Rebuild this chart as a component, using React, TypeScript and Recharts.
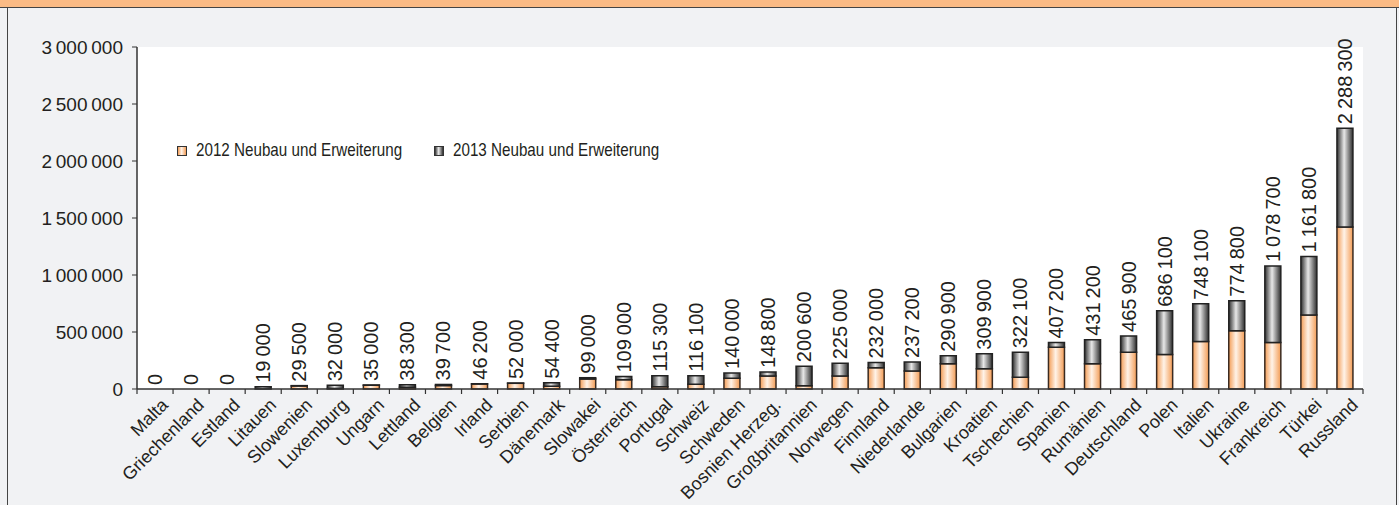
import React from 'react';
import {
  ComposedChart,
  Bar,
  Line,
  XAxis,
  YAxis,
  CartesianGrid,
  LabelList,
} from 'recharts';

const countries = [
  'Malta', 'Griechenland', 'Estland', 'Litauen', 'Slowenien', 'Luxemburg',
  'Ungarn', 'Lettland', 'Belgien', 'Irland', 'Serbien', 'Dänemark',
  'Slowakei', 'Österreich', 'Portugal', 'Schweiz', 'Schweden',
  'Bosnien Herzeg.', 'Großbritannien', 'Norwegen', 'Finnland', 'Niederlande',
  'Bulgarien', 'Kroatien', 'Tschechien', 'Spanien', 'Rumänien',
  'Deutschland', 'Polen', 'Italien', 'Ukraine', 'Frankreich', 'Türkei',
  'Russland',
];

// 2012 Neubau und Erweiterung
const values2012 = [
  0, 0, 0, 0, 27000, 4000,
  33000, 16000, 30000, 44000, 50000, 25000,
  88000, 82000, 20000, 41000, 94000,
  114000, 29000, 114000, 187000, 158000,
  222000, 178000, 102000, 367000, 221000,
  322000, 302000, 416000, 512000, 408000, 650000,
  1420000,
];

// 2013 Neubau und Erweiterung
const values2013 = [
  0, 0, 0, 19000, 2500, 28000,
  2000, 22300, 9700, 2200, 2000, 29400,
  11000, 27000, 95300, 75100, 46000,
  34800, 171600, 111000, 45000, 79200,
  68900, 131900, 220100, 40200, 210200,
  143900, 384100, 332100, 262800, 670700, 511800,
  868300,
];

const yTicks = [0, 500000, 1000000, 1500000, 2000000, 2500000, 3000000];

const data = countries.map((name, i) => ({
  name,
  a: values2012[i],
  b: values2013[i],
  total: values2012[i] + values2013[i],
}));

const W = 1399;
const H = 505;
const M = { top: 47, right: 36, left: 37, bottom: 6 };
const Y_AXIS_W = 100;
const X_AXIS_H = 110;
const plotW = W - M.left - M.right - Y_AXIS_W;
const half = plotW / countries.length / 2;

const FONT = "'Liberation Sans', Arial, sans-serif";
const TXT = '#231f20';

const fmt = (v: number) =>
  Math.round(v).toString().replace(/\B(?=(\d{3})+(?!\d))/g, '\u2009');

const CategoryTick = (props: any) => {
  const { x, y, payload, index } = props;
  const ax = x + 5;
  const ay = y;
  return (
    <g>
      <line x1={x - half} x2={x - half} y1={y - 8} y2={y - 3} stroke="#333" strokeWidth={1.2} />
      {index === countries.length - 1 && (
        <line x1={x + half} x2={x + half} y1={y - 8} y2={y - 3} stroke="#333" strokeWidth={1.2} />
      )}
      <text
        x={ax}
        y={ay}
        textAnchor="end"
        dominantBaseline="hanging"
        transform={`rotate(-45, ${ax}, ${ay})`}
        fontFamily={FONT}
        fontSize={18}
        fill={TXT}
      >
        {payload.value}
      </text>
    </g>
  );
};

const ValueLabel = (props: any) => {
  const { x, y, value } = props;
  const ty = y - 4;
  return (
    <text
      x={x}
      y={ty}
      transform={`rotate(-90, ${x}, ${ty})`}
      textAnchor="start"
      dominantBaseline="central"
      fontFamily={FONT}
      fontSize={20}
      fill={TXT}
    >
      {fmt(value)}
    </text>
  );
};

const LegendItem = ({ left, bg, label }: { left: number; bg: string; label: string }) => (
  <div style={{ position: 'absolute', left, top: 0, height: 24, whiteSpace: 'nowrap' }}>
    <span
      style={{
        position: 'absolute',
        left: 0,
        top: 7,
        width: 8,
        height: 8,
        border: '1px solid #333',
        background: bg,
      }}
    />
    <span
      style={{
        position: 'absolute',
        left: 19,
        top: 0,
        fontFamily: FONT,
        fontSize: 19,
        lineHeight: '22px',
        color: TXT,
        transform: 'scaleX(0.8)',
        transformOrigin: 'left center',
      }}
    >
      {label}
    </span>
  </div>
);

export default function App() {
  return (
    <div
      style={{
        position: 'absolute',
        left: 0,
        top: 0,
        width: W,
        height: H,
        background: '#f1f2f4',
        overflow: 'hidden',
      }}
    >
      <div
        style={{
          position: 'absolute',
          left: 0,
          top: 0,
          width: W,
          height: 7,
          background: '#fbbb85',
          borderBottom: '1.5px solid #444',
        }}
      />
      <div
        style={{
          position: 'absolute',
          left: 7,
          top: 8,
          width: 1388,
          height: 520,
          borderLeft: '1.5px solid #444',
          borderRight: '1.5px solid #444',
        }}
      />
      <div style={{ position: 'absolute', left: 0, top: 0 }}>
        <ComposedChart width={W} height={H} data={data} margin={M}>
          <defs>
            <linearGradient id="gOrange" x1="0" y1="0" x2="1" y2="0">
              <stop offset="0%" stopColor="#f39c55" />
              <stop offset="45%" stopColor="#fff3e8" />
              <stop offset="100%" stopColor="#f39c55" />
            </linearGradient>
            <linearGradient id="gGray" x1="0" y1="0" x2="1" y2="0">
              <stop offset="0%" stopColor="#2e2e2e" />
              <stop offset="45%" stopColor="#e8e8e8" />
              <stop offset="100%" stopColor="#2e2e2e" />
            </linearGradient>
          </defs>
          <CartesianGrid horizontal={false} vertical={false} fill="#ffffff" />
          <XAxis
            dataKey="name"
            interval={0}
            height={X_AXIS_H}
            tickLine={false}
            axisLine={{ stroke: '#333', strokeWidth: 1.5 }}
            tick={<CategoryTick />}
          />
          <XAxis
            xAxisId="top"
            orientation="top"
            dataKey="name"
            height={0}
            tick={false}
            tickLine={false}
            axisLine={{ stroke: '#555', strokeWidth: 1.2 }}
          />
          <YAxis
            width={Y_AXIS_W}
            domain={[0, 3000000]}
            ticks={yTicks}
            interval={0}
            tickFormatter={fmt}
            tick={{ fontFamily: FONT, fontSize: 19, fill: TXT }}
            tickSize={5}
            tickMargin={9}
            tickLine={{ stroke: '#333' }}
            axisLine={{ stroke: '#333', strokeWidth: 1.5 }}
          />
          <YAxis
            yAxisId="right"
            orientation="right"
            width={0}
            domain={[0, 3000000]}
            tick={false}
            tickLine={false}
            axisLine={{ stroke: '#666', strokeWidth: 1.2 }}
          />
          <Bar
            dataKey="a"
            stackId="s"
            barSize={16}
            fill="url(#gOrange)"
            stroke="#3a2a20"
            strokeWidth={1.5}
            isAnimationActive={false}
          />
          <Bar
            dataKey="b"
            stackId="s"
            barSize={16}
            fill="url(#gGray)"
            stroke="#222"
            strokeWidth={1.5}
            isAnimationActive={false}
          />
          <Line
            dataKey="total"
            stroke="none"
            dot={false}
            activeDot={false}
            legendType="none"
            isAnimationActive={false}
          >
            <LabelList dataKey="total" content={<ValueLabel />} />
          </Line>
        </ComposedChart>
      </div>
      <div style={{ position: 'absolute', left: 177, top: 139, width: 600, height: 24 }}>
        <LegendItem
          left={0}
          bg="linear-gradient(90deg, #f39c55, #fff3e8 45%, #f39c55)"
          label="2012 Neubau und Erweiterung"
        />
        <LegendItem
          left={257}
          bg="linear-gradient(90deg, #2e2e2e, #e8e8e8 45%, #2e2e2e)"
          label="2013 Neubau und Erweiterung"
        />
      </div>
    </div>
  );
}
